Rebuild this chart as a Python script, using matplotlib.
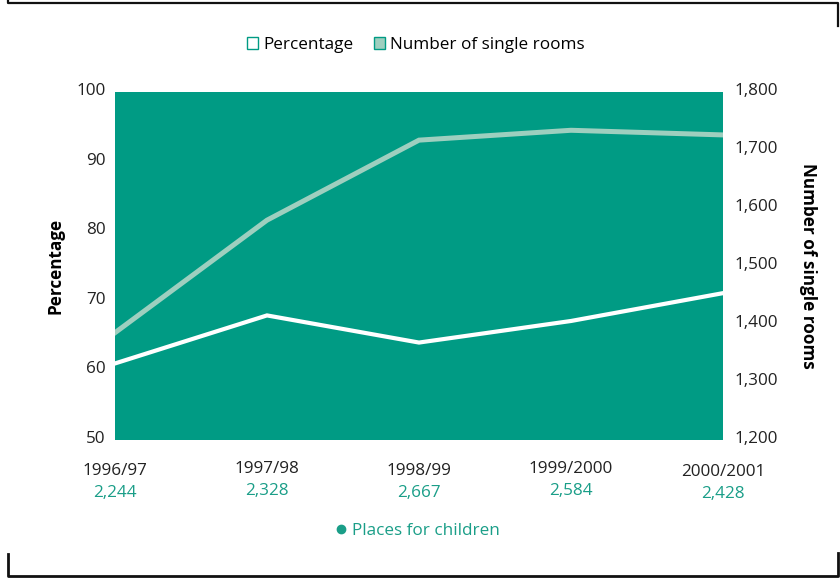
import matplotlib
matplotlib.use("Agg")
import matplotlib.pyplot as plt
import matplotlib.transforms as mtransforms
from matplotlib.patches import Patch
from matplotlib.lines import Line2D
from matplotlib.ticker import FuncFormatter

plt.rcParams['font.family'] = ['Open Sans', 'DejaVu Sans']

years = ["1996/97", "1997/98", "1998/99", "1999/2000", "2000/2001"]
percentage = [61.0, 67.9, 64.0, 67.1, 71.1]
single_rooms = [1385, 1579, 1717, 1734, 1726]
places_for_children = ["2,244", "2,328", "2,667", "2,584", "2,428"]

TEAL = "#009B84"
LIGHT = "#9ECFBF"
TEXT_TEAL = "#1A9E88"
FS = 12.3

W, H = 840, 578
fig = plt.figure(figsize=(W / 100, H / 100), dpi=100)
ax = fig.add_axes([115 / W, (H - 440) / H, 608 / W, 348 / H])
ax.set_facecolor(TEAL)
x = list(range(len(years)))
ax.plot(x, percentage, color="white", lw=3.0, solid_joinstyle="miter", zorder=3)
ax.set_xlim(0, len(years) - 1)
ax.set_ylim(50, 100)
ax.set_yticks(range(50, 101, 10))
ax.set_xticks([])
for s in ax.spines.values():
    s.set_visible(False)
ax.tick_params(axis="y", length=0, pad=7, labelsize=FS, labelcolor="#222222")
ax.set_ylabel("Percentage", fontsize=FS, fontweight="bold", labelpad=8)

ax2 = ax.twinx()
ax2.plot(x, single_rooms, color=LIGHT, lw=3.6, solid_joinstyle="miter", zorder=2)
ax2.set_ylim(1200, 1800)
ax2.set_yticks(range(1200, 1801, 100))
ax2.yaxis.set_major_formatter(FuncFormatter(lambda v, p: f"{int(v):,}"))
for s in ax2.spines.values():
    s.set_visible(False)
ax2.tick_params(axis="y", length=0, pad=8, labelsize=FS, labelcolor="#222222")
ax2.set_ylabel("Number of single rooms", fontsize=FS, fontweight="bold",
               rotation=-90, labelpad=28)

# shift tick labels up slightly as in the reference
shift = mtransforms.ScaledTranslation(0, 3 / 100, fig.dpi_scale_trans)
for a in (ax, ax2):
    for lbl in a.get_yticklabels():
        lbl.set_transform(lbl.get_transform() + shift)

# x category labels with places for children below
year_dy = [0, -2, 0, -2, 1]
for i, (yr, pc) in enumerate(zip(years, places_for_children)):
    ax.annotate(yr, xy=(i, 50), xycoords="data", xytext=(0, -31 - year_dy[i]),
                textcoords="offset pixels", ha="center", va="center",
                fontsize=FS, color="#222222", annotation_clip=False)
    ax.annotate(pc, xy=(i, 50), xycoords="data", xytext=(0, -53 - year_dy[i]),
                textcoords="offset pixels", ha="center", va="center",
                fontsize=FS, color=TEXT_TEAL, annotation_clip=False)

# top legend
handles = [Patch(facecolor="white", edgecolor=TEAL, lw=1.0, label="Percentage"),
           Patch(facecolor=LIGHT, edgecolor=TEAL, lw=1.0, label="Number of single rooms")]
fig.legend(handles=handles, loc="center", bbox_to_anchor=(416 / W, 1 - 45 / H),
           ncol=2, frameon=False, fontsize=FS, handlelength=0.65, handleheight=0.65,
           handletextpad=0.3, columnspacing=1.2)

# bottom legend
leg2 = fig.legend(handles=[Line2D([], [], marker="o", color=TEXT_TEAL, ls="none",
                                  markersize=6, label="Places for children")],
                  loc="center", bbox_to_anchor=(418 / W, 1 - 531 / H), frameon=False,
                  fontsize=FS, handlelength=0.6, handletextpad=0.3)
for t in leg2.get_texts():
    t.set_color(TEXT_TEAL)

# decorative frame corners
def fl(xs, ys, lw=2.0):
    fig.add_artist(Line2D([v / W for v in xs], [1 - v / H for v in ys],
                          color="#111111", lw=lw, transform=fig.transFigure))

fl([8, 8, 838, 838], [0, 3, 3, 26], lw=1.6)
fl([8, 8, 838, 838], [554, 576, 576, 553], lw=2.0)

fig.savefig("out.png", dpi=100)
